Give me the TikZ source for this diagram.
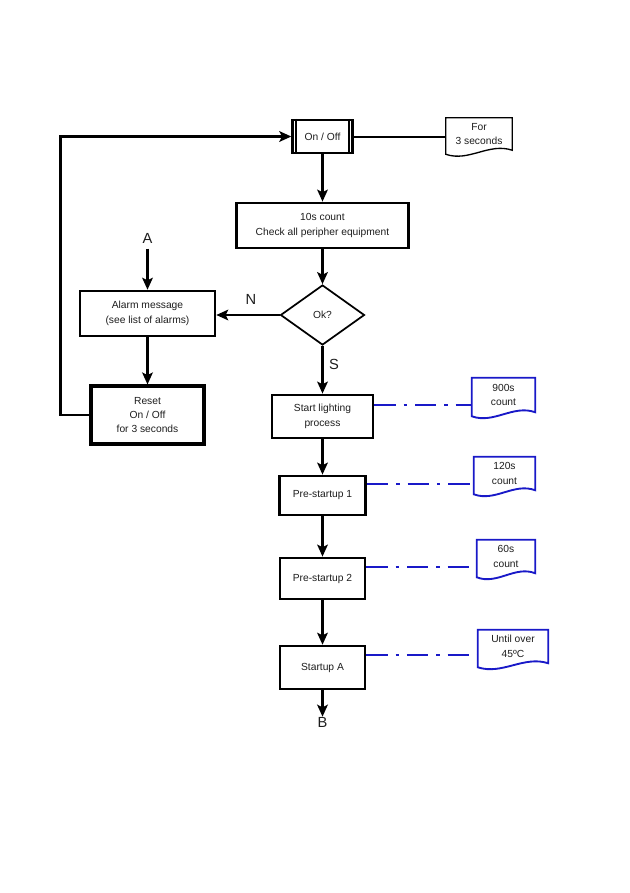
\documentclass[tikz,border=0pt]{standalone}
\usepackage{fontspec}
\setmainfont{Liberation Sans}
\usetikzlibrary{arrows.meta,shapes.geometric,calc}
\definecolor{docblue}{RGB}{25,25,200}
\definecolor{ink}{RGB}{30,30,30}
% outline of a document shape drawn round node #1 of width #2 (px)
\newcommand\docoutline[3]{%
  \draw[#3] (#1.south east) -- (#1.north east) -- (#1.north west)
    -- ([yshift=-3pt]#1.south west)
    .. controls +(0.35*#2,8) and +(-0.35*#2,-8) .. (#1.south east) -- cycle;}
\begin{document}
\begin{tikzpicture}[x=0.75pt,y=-0.75pt,
  txt/.style={font=\fontsize{7.7}{10.8}\selectfont, text=ink, align=center, inner sep=0pt},
  box/.style={txt, draw=black, rectangle, line width=2.1pt},
  docbox/.style={txt, rectangle},
  arr/.style={line width=1.6pt, draw=black, -{Stealth[length=9pt,width=8pt,inset=2pt]}},
  plain/.style={line width=1.5pt, draw=black},
  blueline/.style={draw=docblue, line width=1.5pt, dash pattern=on 16pt off 6pt on 2.5pt off 6pt},
  docblueline/.style={draw=docblue, line width=1.4pt},
  docblackline/.style={draw=black, line width=1pt},
  letter/.style={font=\fontsize{11}{13}\selectfont, text=ink, inner sep=0pt}]
\fill[white] (0,0) rectangle (629,893);
\useasboundingbox (0,0) rectangle (629,893);

% main column
\node[box, line width=1.8pt, minimum width=60*0.75pt, minimum height=33*0.75pt] (onoff) at (322.5,136.5) {On / Off};
\draw[line width=1.8pt] ([xshift=3.5pt]onoff.north west) -- ([xshift=3.5pt]onoff.south west);
\draw[line width=1.8pt] ([xshift=-3.5pt]onoff.north east) -- ([xshift=-3.5pt]onoff.south east);

\node[docbox, minimum width=66*0.75pt, minimum height=32*0.75pt] (for3) at (479,134) {For\\3 seconds};
\docoutline{for3}{66}{docblackline}

\node[box, minimum width=172*0.75pt, minimum height=45*0.75pt] (cnt) at (322.5,225.5) {10s count\\Check all peripher equipment};
\node[txt, draw=black, shape=diamond, line width=1.3pt, minimum width=84*0.75pt, minimum height=60*0.75pt] (ok) at (322.5,315) {Ok?};
\node[box, line width=1.9pt, minimum width=135*0.75pt, minimum height=45*0.75pt] (alarm) at (147.5,313.5) {Alarm message\\(see list of alarms)};
\node[box, line width=2.3pt, minimum width=113*0.75pt, minimum height=58*0.75pt] (reset) at (147.5,415) {Reset\\On / Off\\for 3 seconds};
\node[box, minimum width=101*0.75pt, minimum height=43*0.75pt] (sl) at (322.5,416.5) {Start lighting\\process};
\node[box, minimum width=86*0.75pt, minimum height=39*0.75pt] (p1) at (322.5,495.5) {Pre-startup 1};
\node[box, minimum width=85*0.75pt, minimum height=41*0.75pt] (p2) at (322.5,578.5) {Pre-startup 2};
\node[box, line width=1.9pt, minimum width=85*0.75pt, minimum height=43*0.75pt] (sa) at (322.5,667.5) {Startup A};

% documents
\node[docbox, minimum width=63*0.75pt, minimum height=34*0.75pt] (d900) at (503.5,395) {900s\\count};
\docoutline{d900}{63}{docblueline}
\node[docbox, minimum width=61*0.75pt, minimum height=33*0.75pt] (d120) at (504.5,473.5) {120s\\count};
\docoutline{d120}{61}{docblueline}
\node[docbox, minimum width=58*0.75pt, minimum height=33*0.75pt] (d60) at (506,556.5) {60s\\count};
\docoutline{d60}{58}{docblueline}
\node[docbox, minimum width=70*0.75pt, minimum height=33*0.75pt] (d45) at (513,646.5) {Until over\\45ºC};
\docoutline{d45}{70}{docblueline}

% letters
\node[letter] (A) at (147.5,238) {A};
\node[letter] (B) at (322.5,722) {B};
\node[letter] (N) at (251,299) {N};
\node[letter] (S) at (334,364) {S};

% connectors
\draw[plain] (onoff.east) -- (for3.west |- onoff.east);
\draw[arr] (onoff.south) -- (cnt.north);
\draw[arr] (cnt.south) -- (ok.north);
\draw[arr] (ok.west) -- (ok.west -| alarm.east);
\draw[arr] ([yshift=-4pt]A.south) -- (alarm.north);
\draw[arr] (alarm.south) -- (reset.north);
\draw[arr] (reset.west) -- ++(-29,0) |- (onoff.west);
\draw[arr] (ok.south) -- (sl.north);
\draw[arr] (sl.south) -- (p1.north);
\draw[arr] (p1.south) -- (p2.north);
\draw[arr] (p2.south) -- (sa.north);
\draw[arr] (sa.south) -- (B.north);

% timer links
\coordinate (c1) at ([yshift=-8.25pt]sl.north east);
\draw[blueline] (c1) -- (c1 -| d900.west);
\coordinate (c2) at ([yshift=-6.75pt]p1.north east);
\draw[blueline] (c2) -- (c2 -| d120.west);
\coordinate (c3) at ([yshift=-7.5pt]p2.north east);
\draw[blueline] (c3) -- (c3 -| d60.west);
\coordinate (c4) at ([yshift=-7.5pt]sa.north east);
\draw[blueline] (c4) -- (c4 -| d45.west);
\end{tikzpicture}
\end{document}
